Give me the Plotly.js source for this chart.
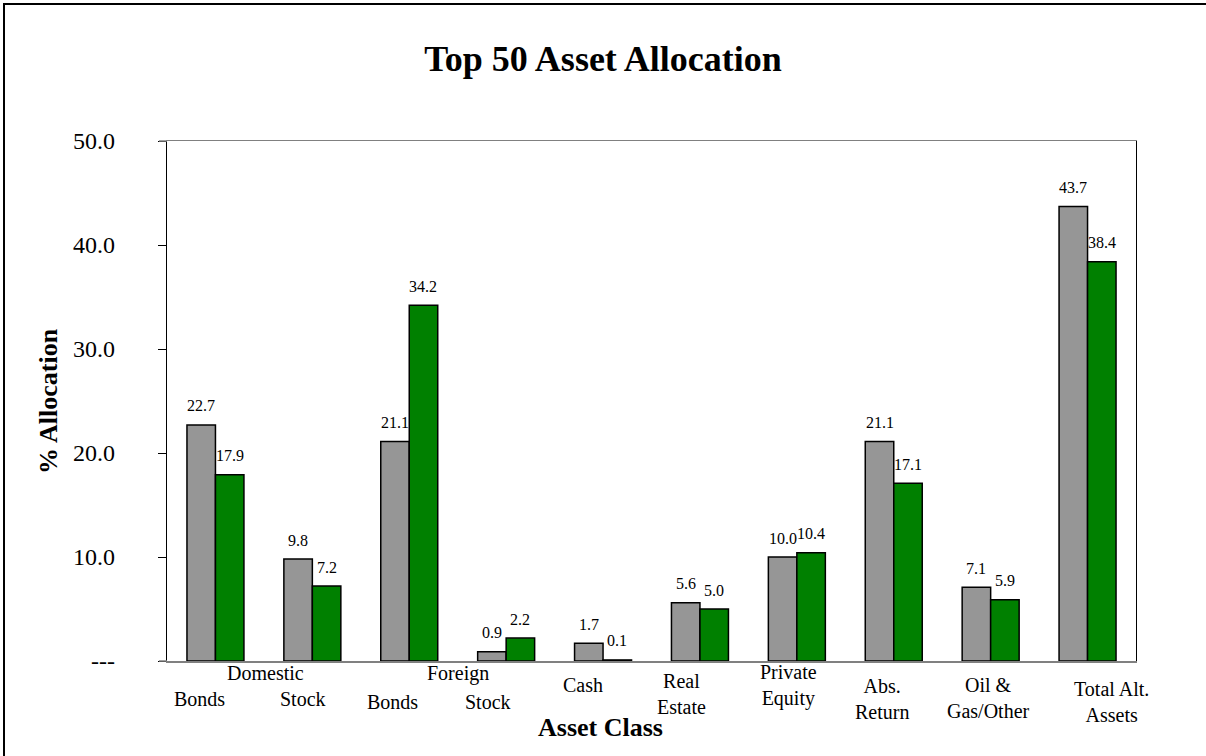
<!DOCTYPE html>
<html>
<head>
<meta charset="utf-8">
<script src="https://cdn.plot.ly/plotly-3.0.1.min.js"></script>
<style>
  html, body { margin: 0; padding: 0; background: #fff; overflow: hidden; }
  #wrap { position: relative; width: 1206px; height: 756px; overflow: hidden; }
  #chart { width: 1206px; height: 756px; }
  #frame { position: absolute; left: 3px; top: 3px; width: 1400px; height: 1000px;
           border-left: 2px solid #000; border-top: 2px solid #000; pointer-events: none; }
</style>
</head>
<body>
<div id="wrap"><div id="chart"></div><div id="frame"></div></div>
<script>
// ---- data ----
const categories = ["Domestic Bonds", "Domestic Stock", "Foreign Bonds", "Foreign Stock", "Cash",
                    "Real Estate", "Private Equity", "Abs. Return", "Oil & Gas/Other", "Total Alt. Assets"];
const seriesGray  = [22.7, 9.8, 21.1, 0.9, 1.7, 5.6, 10.0, 21.1, 7.1, 43.7];
const seriesGreen = [17.9, 7.2, 34.2, 2.2, 0.1, 5.0, 10.4, 17.1, 5.9, 38.4];
const categoryLabels = ["Bonds", "Stock", "Bonds", "Stock", "Cash", "Real<br>Estate", "Private<br>Equity",
                        "Abs.<br>Return", "Oil &<br>Gas/Other", "Total Alt.<br>Assets"];
const groupLabels = ["Domestic", "Foreign"];
const yTickVals = [0, 10, 20, 30, 40, 50];
const yTickText = ["---", "10.0", "20.0", "30.0", "40.0", "50.0"];

// ---- layout tuning (pixels) ----
const labelDX = [-16, -9, -17, -18, -20, -18, -8, -12, -2, 24];
const labelY  = [699, 699, 702, 702, 685, 693.5, 685, 698.5, 698, 701.5];
const groupAt = [0.5, 2.5];
const groupDX = [2, 0];
const groupY  = 673;

const FONT = "Liberation Serif, Times New Roman, serif";
const BARGAP = 0.412;
const H = 756, MT = 141, MB = 95;
const baseY = H - MB; // pixel y of value 0

const x = categories.map((_, i) => i);

const traces = [
  { type: "bar", x: x, y: seriesGray, name: "Series 1", hoverinfo: "x+y",
    marker: { color: "#969696", line: { color: "#000", width: 1.5 } } },
  { type: "bar", x: x, y: seriesGreen, name: "Series 2", hoverinfo: "x+y",
    marker: { color: "#008000", line: { color: "#000", width: 1.5 } } }
];

const ann = [];
const half = (1 - BARGAP) / 4;
[seriesGray, seriesGreen].forEach((s, k) => {
  s.forEach((v, i) => {
    ann.push({ xref: "x", yref: "y", x: i + (k === 0 ? -half : half), y: v, yshift: 19,
      text: v.toFixed(1), showarrow: false, xanchor: "center", yanchor: "middle",
      font: { family: FONT, size: 16, color: "#000" } });
  });
});
categoryLabels.forEach((t, i) => {
  ann.push({ xref: "x", yref: "y", x: i, y: 0, xshift: labelDX[i], yshift: -(labelY[i] - baseY),
    text: t, showarrow: false, xanchor: "center", yanchor: "middle",
    font: { family: FONT, size: 20, color: "#000" } });
});
groupLabels.forEach((t, j) => {
  ann.push({ xref: "x", yref: "y", x: groupAt[j], y: 0, xshift: groupDX[j], yshift: -(groupY - baseY),
    text: t, showarrow: false, xanchor: "center", yanchor: "middle",
    font: { family: FONT, size: 20, color: "#000" } });
});
// axis titles
ann.push({ xref: "paper", yref: "paper", x: (600 - 167) / 969, y: (baseY - 727) / (H - MT - MB),
  text: "<b>Asset Class</b>", showarrow: false, xanchor: "center", yanchor: "middle",
  font: { family: FONT, size: 26, color: "#000" } });
ann.push({ xref: "paper", yref: "paper", x: (48 - 167) / 969, y: 0.5, textangle: -90,
  text: "<b>% Allocation</b>", showarrow: false, xanchor: "center", yanchor: "middle",
  font: { family: FONT, size: 26, color: "#000" } });

const layout = {
  width: 1206, height: 756,
  margin: { l: 167, r: 70, t: MT, b: MB, pad: 0 },
  paper_bgcolor: "#fff", plot_bgcolor: "#fff",
  showlegend: false,
  barmode: "group", bargap: BARGAP, bargroupgap: 0,
  title: { text: "<b>Top 50 Asset Allocation</b>", x: 0.5, xref: "container", y: 1 - 58 / 756,
           yref: "container", yanchor: "middle", xanchor: "center",
           font: { family: FONT, size: 36, color: "#000" } },
  xaxis: { type: "linear", range: [-0.5, 9.5], showticklabels: false, ticks: "", showgrid: false,
           zeroline: false, showline: true, linecolor: "#808080", linewidth: 1.5, mirror: true,
           fixedrange: true },
  yaxis: { range: [0, 50], tickvals: yTickVals, ticktext: yTickText, ticks: "outside", ticklen: 8,
           tickcolor: "#000", tickwidth: 1, showgrid: false, zeroline: false, showline: true,
           linecolor: "#000", linewidth: 1.2, mirror: true, ticklabelstandoff: 38,
           tickfont: { family: FONT, size: 24, color: "#000" }, fixedrange: true },
  shapes: [
    { type: "line", xref: "paper", yref: "paper", xsizemode: "pixel", xanchor: 0, x0: -8, x1: 0,
      y0: 0, y1: 0, line: { color: "#808080", width: 1.5 } },
    { type: "line", xref: "paper", yref: "paper", xsizemode: "pixel", xanchor: 0, x0: -8, x1: 0,
      y0: 1, y1: 1, line: { color: "#808080", width: 1.5 } }
  ],
  annotations: ann
};

Plotly.newPlot("chart", traces, layout, { displayModeBar: false, staticPlot: true });
</script>
</body>
</html>
